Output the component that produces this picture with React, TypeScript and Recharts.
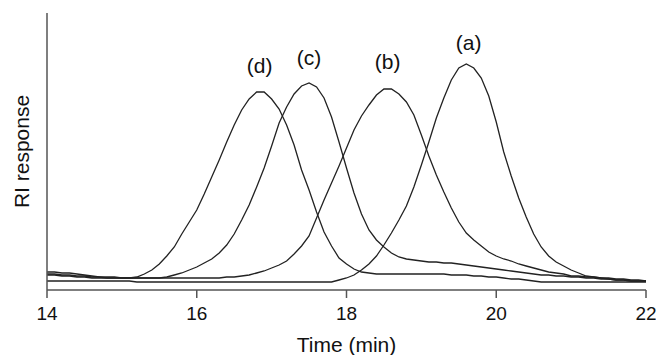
import { LineChart, Line, XAxis, YAxis, ReferenceDot } from "recharts";

// elution time (min), 0.1 min steps
const time = [
  14.0, 14.1, 14.2, 14.3, 14.4, 14.5, 14.6, 14.7, 14.8, 14.9,
  15.0, 15.1, 15.2, 15.3, 15.4, 15.5, 15.6, 15.7, 15.8, 15.9,
  16.0, 16.1, 16.2, 16.3, 16.4, 16.5, 16.6, 16.7, 16.8, 16.9,
  17.0, 17.1, 17.2, 17.3, 17.4, 17.5, 17.6, 17.7, 17.8, 17.9,
  18.0, 18.1, 18.2, 18.3, 18.4, 18.5, 18.6, 18.7, 18.8, 18.9,
  19.0, 19.1, 19.2, 19.3, 19.4, 19.5, 19.6, 19.7, 19.8, 19.9,
  20.0, 20.1, 20.2, 20.3, 20.4, 20.5, 20.6, 20.7, 20.8, 20.9,
  21.0, 21.1, 21.2, 21.3, 21.4, 21.5, 21.6, 21.7, 21.8, 21.9,
  22.0,
];

// RI response of each trace (arbitrary units)
const traceA = [
  9, 9, 9, 9, 9, 9, 9, 9, 9, 9,
  9, 9, 8, 8, 8, 8, 8, 8, 8, 8,
  8, 8, 8, 8, 8, 8, 8, 8, 8, 8,
  8, 8, 8, 8, 8, 8, 8, 8, 8, 10,
  12, 15, 20, 26, 34, 45, 57, 70, 84, 103,
  125, 148, 172, 192, 210, 222, 226, 222, 212, 194,
  168, 138, 114, 92, 73, 56, 43, 34, 28, 24,
  20, 17, 14, 13, 12, 11, 10, 10, 9, 9,
  9,
];

const traceB = [
  15, 15, 14, 14, 13, 13, 12, 12, 12, 12,
  12, 12, 12, 12, 12, 12, 12, 12, 12, 12,
  12, 12, 12, 12, 13, 13, 14, 15, 17, 19,
  22, 25, 29, 36, 44, 54, 72, 90, 107, 124,
  142, 160, 174, 185, 195, 201, 201, 196, 188, 175,
  155, 134, 115, 98, 82, 68, 57, 50, 44, 38,
  34, 31, 29, 26, 24, 22, 20, 18, 17, 16,
  14, 14, 13, 13, 12, 12, 11, 11, 10, 10,
  9,
];

const traceC = [
  16, 16, 15, 15, 14, 14, 13, 13, 12, 12,
  12, 12, 12, 12, 12, 12, 13, 15, 17, 20,
  23, 27, 31, 37, 45, 56, 70, 85, 103, 122,
  144, 167, 183, 196, 204, 207, 203, 192, 173, 148,
  122, 97, 76, 60, 50, 43, 37, 33, 31, 30,
  29, 28, 28, 27, 27, 26, 25, 24, 23, 22,
  21, 20, 19, 18, 17, 16, 15, 15, 14, 14,
  13, 13, 12, 12, 11, 11, 10, 10, 9, 9,
  9,
];

const traceD = [
  18, 18, 17, 17, 16, 15, 14, 13, 13, 13,
  12, 12, 13, 16, 20, 26, 34, 43, 56, 68,
  80, 96, 113, 130, 148, 165, 180, 191, 198, 198,
  191, 181, 165, 145, 120, 100, 78, 58, 44, 32,
  26, 21, 18, 17, 16, 16, 16, 16, 16, 16,
  16, 16, 16, 16, 15, 15, 15, 14, 14, 13,
  13, 12, 11, 11, 10, 9, 8, 8, 8, 8,
  8, 8, 8, 8, 8, 8, 8, 8, 8, 8,
  8,
];

const xTicks = [14, 16, 18, 20, 22];

const peakNames = ["(a)", "(b)", "(c)", "(d)"];
const peakNameTime = [19.63, 18.55, 17.5, 16.84];
const peakNameLevel = [247, 228, 232, 224];

const data = time.map((t, i) => ({
  t,
  a: traceA[i],
  b: traceB[i],
  c: traceC[i],
  d: traceD[i],
}));

const FONT = "'Liberation Sans', Arial, Helvetica, sans-serif";
const AXIS = "#555";
const INK = "#222";

const YTitle = ({ viewBox }: any) => {
  const x = viewBox.x + viewBox.width - 18;
  const y = viewBox.y + viewBox.height / 2;
  return (
    <text
      x={x}
      y={y}
      transform={`rotate(-90 ${x} ${y})`}
      textAnchor="middle"
      fontSize={21}
      fill="#111"
      fontFamily={FONT}
    >
      RI response
    </text>
  );
};

const App = () => {
  return (
    <div style={{ position: "absolute", left: 0, top: 0, background: "#fff" }}>
      <LineChart
        width={656}
        height={355}
        data={data}
        margin={{ top: 13, right: 10, bottom: 20, left: 30 }}
        style={{ fontFamily: FONT }}
      >
        <XAxis
          dataKey="t"
          type="number"
          domain={[14, 22]}
          ticks={xTicks}
          height={45}
          stroke={AXIS}
          strokeWidth={1.5}
          tickSize={8}
          tickMargin={9}
          tick={{ fill: "#111", fontSize: 19 }}
          label={{ value: "Time (min)", position: "bottom", offset: 2, fill: "#111", fontSize: 21 }}
        />
        <YAxis
          type="number"
          domain={[0, 277]}
          width={17}
          tick={false}
          tickLine={false}
          stroke={AXIS}
          strokeWidth={1.5}
          label={<YTitle />}
        />
        <Line type="linear" dataKey="a" stroke={INK} strokeWidth={1.3} dot={false} isAnimationActive={false} />
        <Line type="linear" dataKey="b" stroke={INK} strokeWidth={1.3} dot={false} isAnimationActive={false} />
        <Line type="linear" dataKey="c" stroke={INK} strokeWidth={1.3} dot={false} isAnimationActive={false} />
        <Line type="linear" dataKey="d" stroke={INK} strokeWidth={1.3} dot={false} isAnimationActive={false} />
        {peakNames.map((name, i) => (
          <ReferenceDot
            key={name}
            x={peakNameTime[i]}
            y={peakNameLevel[i]}
            r={0}
            stroke="none"
            fill="none"
            label={{ value: name, position: "center", fill: "#111", fontSize: 21 }}
          />
        ))}
      </LineChart>
    </div>
  );
};

export default App;
